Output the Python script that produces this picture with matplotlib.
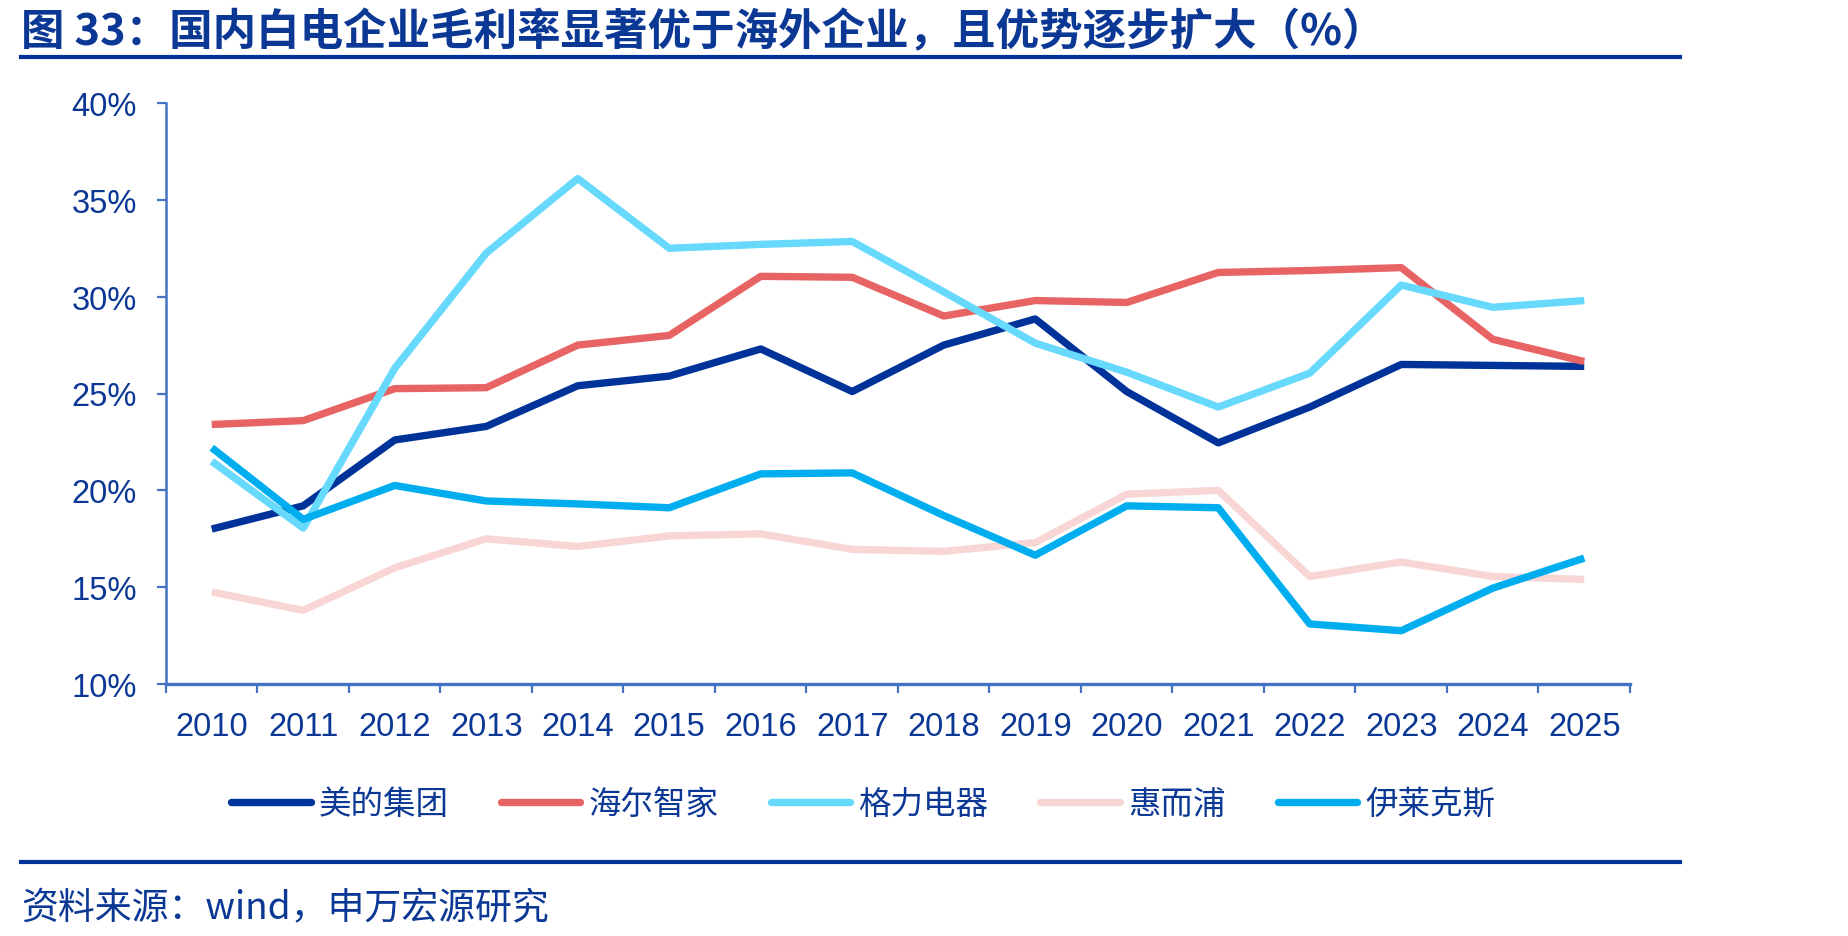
import matplotlib
matplotlib.use("Agg")
import matplotlib.pyplot as plt
from matplotlib.lines import Line2D
from matplotlib.ticker import FixedLocator, FuncFormatter
import numpy as np

plt.rcParams['font.family'] = ['Liberation Sans', 'Noto Sans CJK SC', 'DejaVu Sans']

years = ['2010', '2011', '2012', '2013', '2014', '2015', '2016', '2017',
         '2018', '2019', '2020', '2021', '2022', '2023', '2024', '2025']
midea = [18.0, 19.2, 22.6, 23.3, 25.4, 25.9, 27.3, 25.1, 27.5, 28.85, 25.1, 22.45, 24.3, 26.5, 26.45, 26.4]
haier = [23.4, 23.6, 25.25, 25.3, 27.5, 28.0, 31.05, 31.0, 29.0, 29.8, 29.7, 31.25, 31.35, 31.5, 27.8, 26.65]
gree = [21.5, 18.05, 26.3, 32.25, 36.1, 32.5, 32.7, 32.85, 30.25, 27.6, 26.1, 24.3, 26.05, 30.6, 29.45, 29.8]
whirlpool = [14.75, 13.8, 16.0, 17.5, 17.1, 17.65, 17.75, 16.95, 16.85, 17.3, 19.8, 20.0, 15.55, 16.3, 15.55, 15.4]
electrolux = [22.2, 18.5, 20.25, 19.45, 19.3, 19.1, 20.85, 20.9, 18.7, 16.65, 19.2, 19.1, 13.1, 12.75, 14.95, 16.5]

series_names = ['美的集团', '海尔智家', '格力电器', '惠而浦', '伊莱克斯']
series_values = [midea, haier, gree, whirlpool, electrolux]
series_colors = ['#003399', '#E86464', '#66D9FC', '#F9D6D6', '#00AEEF']
yticks = [10, 15, 20, 25, 30, 35, 40]

title = '图 33：国内白电企业毛利率显著优于海外企业，且优势逐步扩大（%）'
source = '资料来源：wind，申万宏源研究'

TEXT = '#0B3894'
AXC = '#4472C4'
W, H = 1849, 937

fig = plt.figure(figsize=(W / 100, H / 100), dpi=100)
ax = fig.add_axes([166 / W, 1 - 685 / H, (1630 - 166) / W, (685 - 104) / H])

x = np.arange(len(years))
for name, vals, c in zip(series_names, series_values, series_colors):
    ax.plot(x, vals, color=c, lw=5.3, label=name, solid_capstyle='butt', solid_joinstyle='round')

ax.set_xlim(-0.5, len(years) - 0.5)
ax.set_ylim(10, 40)
for s in ['top', 'right']:
    ax.spines[s].set_visible(False)
ax.spines['left'].set_color(AXC)
ax.spines['left'].set_linewidth(1.8)
ax.spines['bottom'].set_color(AXC)
ax.spines['bottom'].set_linewidth(2.4)

ax.yaxis.set_major_locator(FixedLocator(yticks))
ax.yaxis.set_major_formatter(FuncFormatter(lambda v, p: f'{int(v)}%'))
ax.tick_params(axis='y', colors=AXC, labelcolor=TEXT, labelsize=23.5, length=6.5, width=1.6, pad=14.5)

ax.set_xticks(np.arange(-0.5, len(years)), [''] * (len(years) + 1))
ax.set_xticks(x, years, minor=True)
ax.tick_params(axis='x', which='major', colors=AXC, length=6.5, width=1.6)
ax.tick_params(axis='x', which='minor', length=0, labelcolor=TEXT, labelsize=23.5, pad=19.5)

leg = fig.legend(loc='center left', bbox_to_anchor=(231 / W, 1 - 805 / H), ncol=5, frameon=False,
                 prop={'family': ['Noto Sans CJK SC'], 'size': 23.4}, handlelength=2.45,
                 handletextpad=0.25, columnspacing=1.6, borderpad=0, borderaxespad=0)
for t in leg.get_texts():
    t.set_color(TEXT)
for h in leg.get_lines():
    h.set_solid_capstyle('round')
    h.set_linewidth(5.3)

fig.text(21 / W, 1 - 32 / H, title, fontsize=31.3, fontweight='bold', color=TEXT,
         family=['Noto Sans CJK SC', 'DejaVu Sans'], ha='left', va='center')
fig.add_artist(Line2D([21 / W, 1680 / W], [1 - 58 / H] * 2, lw=3, color='#003399'))
fig.add_artist(Line2D([21 / W, 1680 / W], [1 - 863 / H] * 2, lw=3, color='#003399'))
fig.text(21 / W, 1 - 908 / H, source, fontsize=26.6, color=TEXT,
         family=['Noto Sans CJK SC', 'DejaVu Sans'], ha='left', va='center')

fig.savefig('out.png', dpi=100)
